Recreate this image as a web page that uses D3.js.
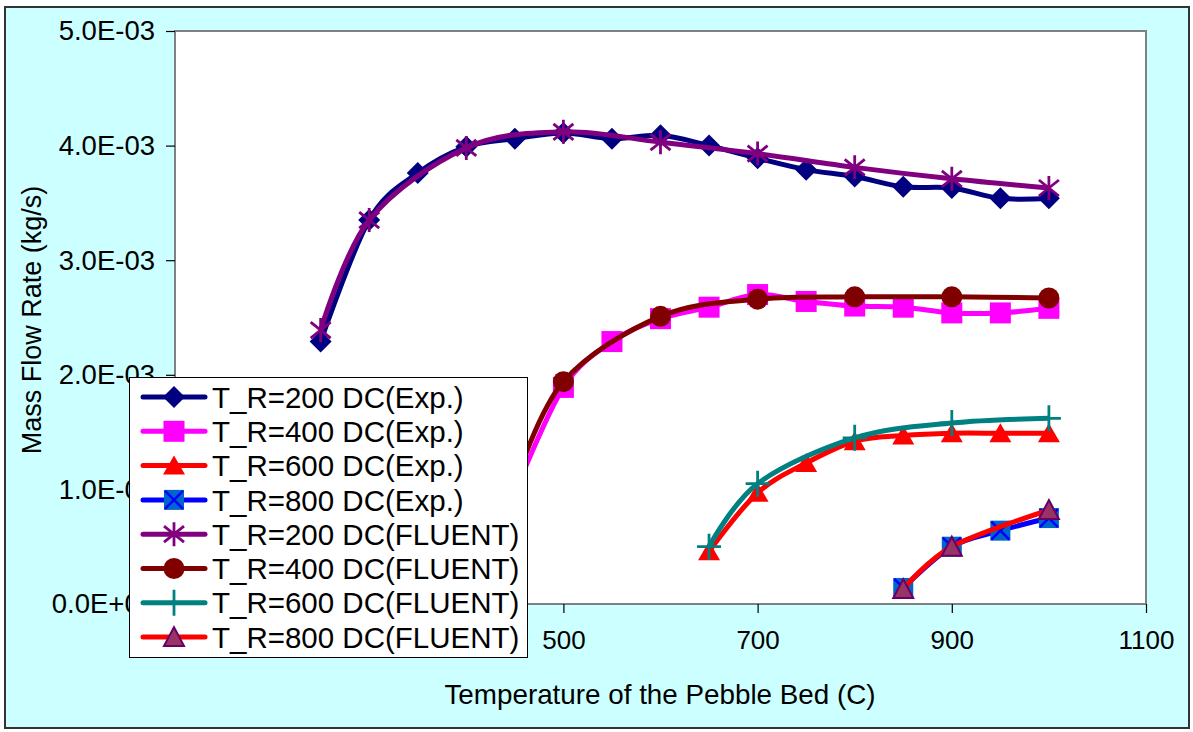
<!DOCTYPE html>
<html>
<head>
<meta charset="utf-8">
<script src="https://cdn.jsdelivr.net/npm/d3@7"></script>
<style>
  body { margin: 0; background: #fff; }
  svg text { font-family: "Liberation Sans", Arial, sans-serif; fill: #000; }
</style>
</head>
<body>
<div class="chart"></div>
<script>
// data (x = temperature C, y = kg/s)
var tempExp200 = [250, 300, 350, 400, 450, 500, 550, 600, 650, 700, 750, 800, 850, 900, 950, 1000];
var flowExp200 = [2.29e-3, 3.35e-3, 3.76e-3, 3.99e-3, 4.06e-3, 4.11e-3, 4.06e-3, 4.09e-3, 4.00e-3, 3.89e-3, 3.79e-3, 3.73e-3, 3.64e-3, 3.63e-3, 3.54e-3, 3.54e-3];

var tempExp400 = [450, 500, 550, 600, 650, 700, 750, 800, 850, 900, 950, 1000];
var flowExp400 = [0.97e-3, 1.89e-3, 2.29e-3, 2.49e-3, 2.59e-3, 2.70e-3, 2.64e-3, 2.60e-3, 2.59e-3, 2.54e-3, 2.54e-3, 2.58e-3];

var tempExp600 = [650, 700, 750, 800, 850, 900, 950, 1000];
var flowExp600 = [0.46e-3, 0.97e-3, 1.23e-3, 1.42e-3, 1.47e-3, 1.49e-3, 1.49e-3, 1.49e-3];

var tempExp800 = [850, 900, 950, 1000];
var flowExp800 = [0.14e-3, 0.50e-3, 0.64e-3, 0.75e-3];

var tempFl200 = [250, 300, 400, 500, 600, 700, 800, 900, 1000];
var flowFl200 = [2.39e-3, 3.35e-3, 3.98e-3, 4.12e-3, 4.03e-3, 3.93e-3, 3.81e-3, 3.71e-3, 3.63e-3];

var tempFl400 = [450, 500, 600, 700, 800, 900, 1000];
var flowFl400 = [1.05e-3, 1.94e-3, 2.51e-3, 2.66e-3, 2.68e-3, 2.68e-3, 2.67e-3];

var tempFl600 = [650, 700, 800, 900, 1000];
var flowFl600 = [0.50e-3, 1.05e-3, 1.45e-3, 1.58e-3, 1.62e-3];

var tempFl800 = [850, 900, 1000];
var flowFl800 = [0.13e-3, 0.50e-3, 0.82e-3];

var seriesNames = ["T_R=200 DC(Exp.)", "T_R=400 DC(Exp.)", "T_R=600 DC(Exp.)", "T_R=800 DC(Exp.)",
                   "T_R=200 DC(FLUENT)", "T_R=400 DC(FLUENT)", "T_R=600 DC(FLUENT)", "T_R=800 DC(FLUENT)"];
var xTicks = [100, 300, 500, 700, 900, 1100];
var yTicks = [0, 1e-3, 2e-3, 3e-3, 4e-3, 5e-3];

var series = [
  {name: seriesNames[0], xs: tempExp200, ys: flowExp200, color: "#000080", marker: "diamond"},
  {name: seriesNames[1], xs: tempExp400, ys: flowExp400, color: "#FF00FF", marker: "square"},
  {name: seriesNames[2], xs: tempExp600, ys: flowExp600, color: "#FF0000", marker: "triangle"},
  {name: seriesNames[3], xs: tempExp800, ys: flowExp800, color: "#0000FF", marker: "xsquare"},
  {name: seriesNames[4], xs: tempFl200, ys: flowFl200, color: "#800080", marker: "star"},
  {name: seriesNames[5], xs: tempFl400, ys: flowFl400, color: "#800000", marker: "circle"},
  {name: seriesNames[6], xs: tempFl600, ys: flowFl600, color: "#008080", marker: "plus"},
  {name: seriesNames[7], xs: tempFl800, ys: flowFl800, color: "#FF0000", marker: "ptriangle"}
];

var W = 1193, H = 732;
var svg = d3.select(".chart").append("svg")
  .attr("width", W).attr("height", H);

// outer chart area
svg.append("rect")
  .attr("x", 5).attr("y", 7).attr("width", 1184).attr("height", 721)
  .attr("fill", "#CCFFFF").attr("stroke", "#333").attr("stroke-width", 2);

var plotL = 175, plotR = 1146, plotT = 31, plotB = 604;
var x = d3.scaleLinear().domain([100, 1100]).range([plotL, plotR]);
var y = d3.scaleLinear().domain([0, 5e-3]).range([plotB, plotT]);

svg.append("rect")
  .attr("x", plotL).attr("y", plotT)
  .attr("width", plotR - plotL).attr("height", plotB - plotT)
  .attr("fill", "#fff").attr("stroke", "#808080").attr("stroke-width", 2);

function sci(d) {
  if (d === 0) return "0.0E+00";
  var s = d.toExponential(1).toUpperCase();  // 5.0E-3
  var parts = s.split("E");
  var e = parseInt(parts[1], 10);
  var sign = e < 0 ? "-" : "+";
  var a = Math.abs(e);
  return parts[0] + "E" + sign + (a < 10 ? "0" + a : a);
}

var yAxis = svg.append("g")
  .attr("transform", "translate(" + plotL + ",0)")
  .call(d3.axisLeft(y).tickValues(yTicks).tickFormat(sci).tickSize(9).tickPadding(11));
var xAxis = svg.append("g")
  .attr("transform", "translate(0," + plotB + ")")
  .call(d3.axisBottom(x).tickValues(xTicks).tickFormat(d3.format("d")).tickSize(9).tickPadding(18));
[yAxis, xAxis].forEach(function(g) {
  g.select(".domain").remove();
  g.selectAll("line").attr("stroke", "#000").attr("stroke-width", 1.2);
  g.selectAll("text").attr("fill", "#000");
});
yAxis.selectAll("text").style("font-size", "27.5px");
xAxis.selectAll("text").style("font-size", "26px");

// axis titles
svg.append("text")
  .attr("x", 660).attr("y", 704)
  .attr("text-anchor", "middle")
  .style("font-size", "27.8px")
  .text("Temperature of the Pebble Bed (C)");
svg.append("text")
  .attr("transform", "translate(41,320) rotate(-90)")
  .attr("text-anchor", "middle")
  .style("font-size", "27px")
  .text("Mass Flow Rate (kg/s)");

// markers
function drawMarker(g, type, color) {
  if (type === "diamond") {
    g.append("path").attr("d", "M0,-11L11,0L0,11L-11,0Z").attr("fill", color);
  } else if (type === "square") {
    g.append("rect").attr("x", -10.5).attr("y", -10.5).attr("width", 21).attr("height", 21).attr("fill", color);
  } else if (type === "triangle") {
    g.append("path").attr("d", "M0,-10L11,9L-11,9Z").attr("fill", color);
  } else if (type === "xsquare") {
    g.append("rect").attr("x", -10).attr("y", -10).attr("width", 20).attr("height", 20).attr("fill", "#0066CC");
    g.append("path").attr("d", "M-9,-9L9,9M9,-9L-9,9").attr("stroke", color).attr("stroke-width", 2.5);
  } else if (type === "star") {
    g.append("path").attr("d", "M0,-12L0,12M-10,-8L10,8M10,-8L-10,8")
      .attr("stroke", color).attr("stroke-width", 2.8).attr("fill", "none");
  } else if (type === "circle") {
    g.append("circle").attr("r", 10.5).attr("fill", color);
  } else if (type === "plus") {
    g.append("path").attr("d", "M-12,0L12,0M0,-13L0,13")
      .attr("stroke", color).attr("stroke-width", 2.8).attr("fill", "none");
  } else if (type === "ptriangle") {
    g.append("path").attr("d", "M0,-10L10,9L-10,9Z")
      .attr("fill", "#993366").attr("stroke", "#660066").attr("stroke-width", 2);
  }
}

var line = d3.line()
  .x(function(d) { return x(d[0]); })
  .y(function(d) { return y(d[1]); })
  .curve(d3.curveCardinal.tension(0));

series.forEach(function(s) {
  var pts = s.xs.map(function(v, i) { return [v, s.ys[i]]; });
  var g = svg.append("g");
  g.append("path")
    .attr("d", line(pts))
    .attr("fill", "none")
    .attr("stroke", s.color)
    .attr("stroke-width", 5)
    .attr("stroke-linejoin", "round");
  g.selectAll(".m")
    .data(pts)
    .enter()
    .append("g")
    .attr("transform", function(d) { return "translate(" + x(d[0]) + "," + y(d[1]) + ")"; })
    .each(function() { drawMarker(d3.select(this), s.marker, s.color); });
});

// legend
var legend = svg.append("g");
legend.append("rect")
  .attr("x", 129.5).attr("y", 377.5).attr("width", 398).attr("height", 280)
  .attr("fill", "#fff").attr("stroke", "#000").attr("stroke-width", 1);
series.forEach(function(s, i) {
  var cy = 397 + i * 34.3;
  var row = legend.append("g").attr("transform", "translate(0," + cy + ")");
  row.append("line")
    .attr("x1", 143).attr("x2", 205)
    .attr("stroke", s.color).attr("stroke-width", 5).attr("stroke-linecap", "round");
  drawMarker(row.append("g").attr("transform", "translate(174,0)"), s.marker, s.color);
  row.append("text")
    .attr("x", 212).attr("y", 0).attr("dy", "0.36em")
    .style("font-size", "29.5px")
    .text(s.name);
});
</script>
</body>
</html>
